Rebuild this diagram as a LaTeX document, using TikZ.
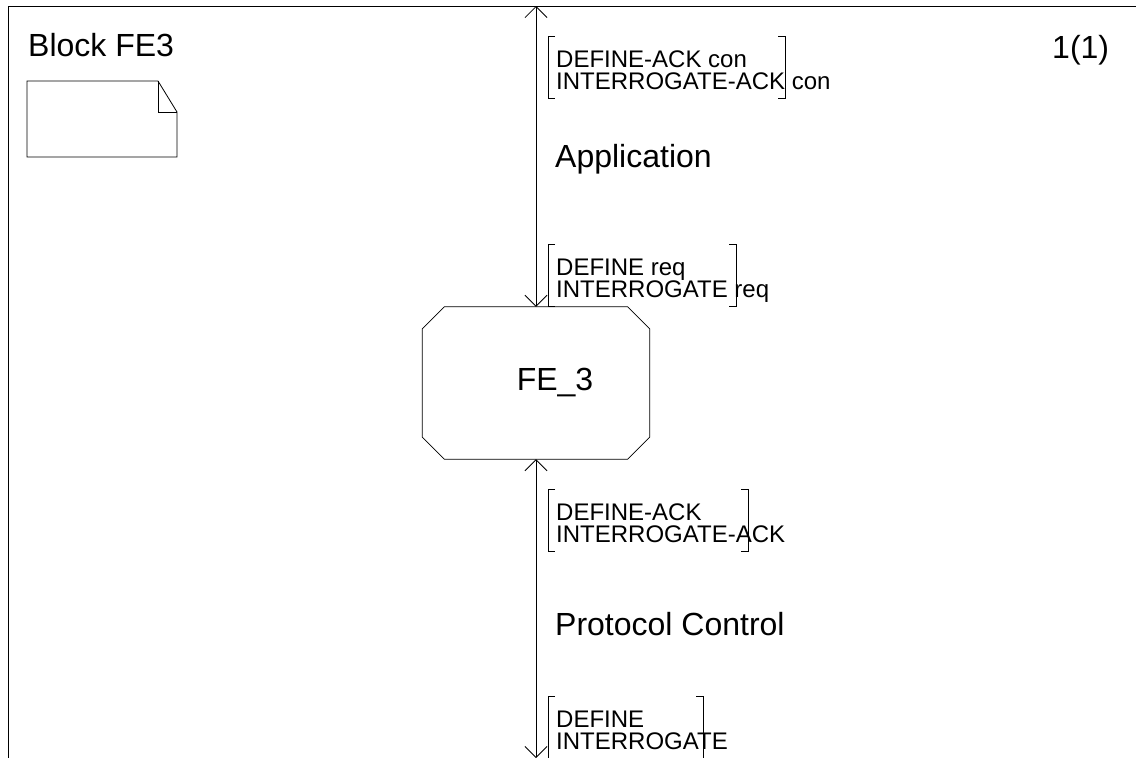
\documentclass[tikz,border=0pt]{standalone}
\usepackage{fontspec}
\setmainfont{Liberation Sans}
\usetikzlibrary{shapes,arrows,arrows.meta}

\begin{document}
\begin{tikzpicture}[x=1pt, y=-1pt,
    block_octagon/.style ={rectangle, draw=none, minimum width=227pt,
      minimum height=152pt, inner sep=0pt},
    block_text/.style ={anchor=base west, inner sep=0pt,
      font=\fontsize{32}{32}\selectfont},
    sig_list/.style ={anchor=base west, inner sep=0pt,
      font=\fontsize{24}{24}\selectfont},
    thin_line/.style ={draw, line width=0.8pt},
    line/.style ={draw, line width=0.8pt,
      {Straight Barb[length=11pt,width=22pt]}-{Straight Barb[length=11pt,width=22pt]}}]
    \useasboundingbox (0,0) rectangle (1136,758);
    % frame of the block
    \draw[thin_line] (8,758) -- (8,6) -- (1136,6);
    \node[block_text] (title) at (28,56) {Block FE3};
    \node[block_text] (page) at (1052,58) {1(1)};
    % text symbol (note)
    \draw[thin_line] (27,81) -- (158,81) -- (177,112) -- (177,157) -- (27,157) -- cycle;
    \draw[thin_line] (158,81) -- (158,112) -- (177,112);
    % the process FE_3
    \node[block_octagon] (fe3) at (536,383) {};
    \draw[thin_line] ([xshift=22pt]fe3.north west) -- ([xshift=-22pt]fe3.north east)
      -- ([yshift=-22pt]fe3.north east) -- ([yshift=22pt]fe3.south east)
      -- ([xshift=-22pt]fe3.south east) -- ([xshift=22pt]fe3.south west)
      -- ([yshift=22pt]fe3.south west) -- ([yshift=-22pt]fe3.north west) -- cycle;
    \node[font=\fontsize{32}{32}\selectfont, inner sep=0pt] (fe3_name)
      at ([xshift=19pt]fe3.center) {FE\_3};
    % channels to the environment
    \coordinate (env_top) at (536,6);
    \coordinate (env_bottom) at (536,758);
    \path[line] (env_top) -- (fe3.north);
    \path[line] (fe3.south) -- (env_bottom);
    \node[block_text] (app) at (555,167) {Application};
    \node[block_text] (pc) at (555,635) {Protocol Control};
    % signal lists
    \node[sig_list] (sig_con1) at (556,67) {DEFINE-ACK con};
    \node[sig_list] (sig_con2) at (556,89.6) {INTERROGATE-ACK con};
    \node[sig_list] (sig_req1) at (556,275) {DEFINE req};
    \node[sig_list] (sig_req2) at (556,297.6) {INTERROGATE req};
    \node[sig_list] (sig_ack1) at (556,520) {DEFINE-ACK};
    \node[sig_list] (sig_ack2) at (556,542.6) {INTERROGATE-ACK};
    \node[sig_list] (sig_pc1) at (556,727) {DEFINE};
    \node[sig_list] (sig_pc2) at (556,749.6) {INTERROGATE};
    % brackets round the signal lists
    \foreach \ytop/\xright in {36/785, 244/736, 489/748, 696/703} {
      \draw[thin_line] (555,\ytop) -- (548,\ytop) -- (548,\ytop+62) -- (555,\ytop+62);
      \draw[thin_line] (\xright-7,\ytop) -- (\xright,\ytop) -- (\xright,\ytop+62) -- (\xright-7,\ytop+62);
    }
  \end{tikzpicture}
\end{document}
